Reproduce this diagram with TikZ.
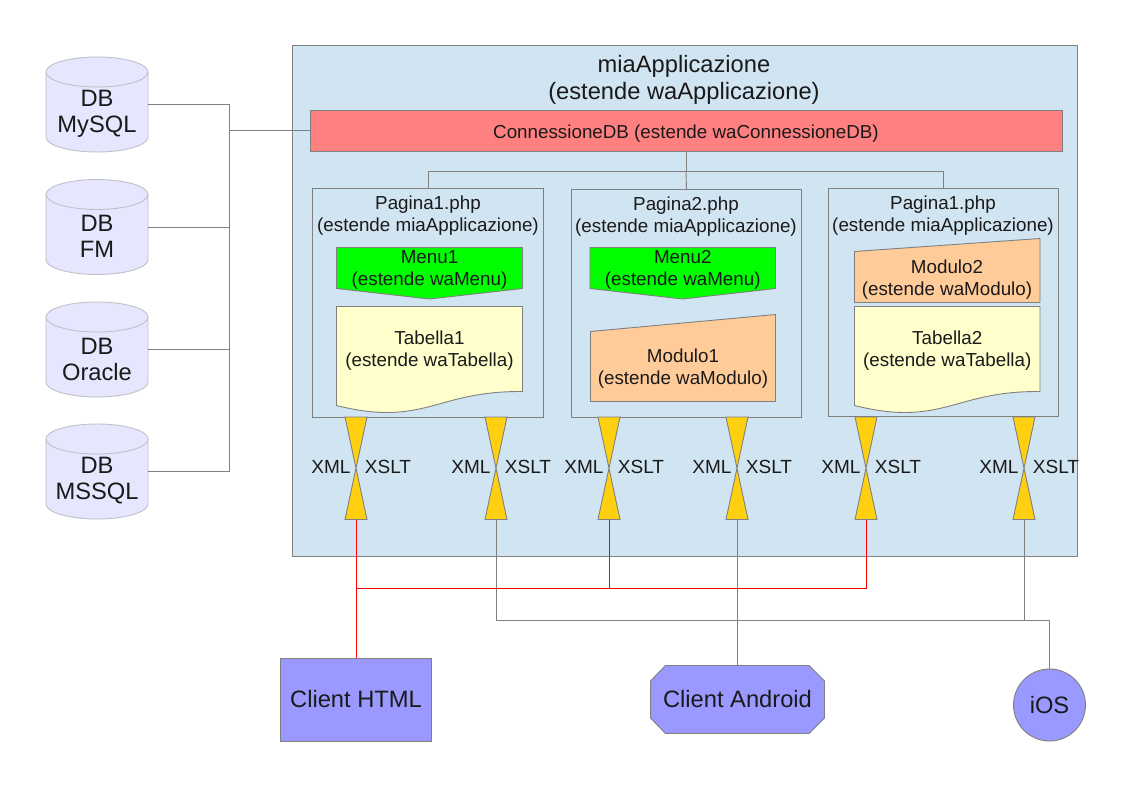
\documentclass[tikz,border=0pt]{standalone}
\usepackage{fontspec}
\setmainfont{Liberation Sans}
\usetikzlibrary{calc}
\definecolor{frameblue}{HTML}{D0E4F1}
\definecolor{edge}{HTML}{808080}
\definecolor{conn}{HTML}{FF8080}
\definecolor{dbfill}{HTML}{E6E6FF}
\definecolor{dbedge}{HTML}{C0C0C8}
\definecolor{menug}{HTML}{00FF00}
\definecolor{tabfill}{HTML}{FFFFCC}
\definecolor{modfill}{HTML}{FFCC99}
\definecolor{hourfill}{HTML}{FFD010}
\definecolor{clientfill}{HTML}{9999FF}
\definecolor{txt}{HTML}{1A1A1A}
\tikzset{
 x=1pt,y=-1pt,
 every node/.style={text=txt,font=\fontsize{18.8}{22}\selectfont,align=center,inner sep=0pt,outer sep=0pt},
 wire/.style={draw=edge,line width=0.9pt},
 redwire/.style={draw=red,line width=0.9pt},
 shapeline/.style={draw=edge,line width=0.9pt},
 boxed/.style={rectangle,draw=edge,line width=0.9pt},
 lbl/.style={font=\fontsize{19}{22}\selectfont},
 big/.style={font=\fontsize{23.7}{27}\selectfont},
 dbtext/.style={font=\fontsize{23.7}{26}\selectfont},
 pagetext/.style={font=\fontsize{18.8}{22}\selectfont},
}
% \dbcyl{name}{top y}{line 1}{line 2}
\newcommand{\dbcyl}[4]{%
 \path[fill=dbfill,draw=dbedge,line width=0.9pt] (46,#2+15) arc[x radius=51,y radius=15,start angle=180,end angle=360]
   -- (148,#2+80) arc[x radius=51,y radius=15,start angle=0,end angle=180] -- cycle;
 \path[draw=dbedge,line width=0.9pt] (46,#2+15) arc[x radius=51,y radius=15,start angle=180,end angle=0];
 \node[rectangle,minimum width=102pt,minimum height=95pt] (#1) at (97,#2+47.5) {};
 \node[dbtext] at (97,#2+57) {#3\\#4};
}
% \hourglass{name}{centre x}
\newcommand{\hourglass}[2]{%
 \path[shapeline,fill=hourfill,line join=miter] (#2-11,417) -- (#2+11,417) -- (#2-11,519.5) -- (#2+11,519.5) -- cycle;
 \node[rectangle,minimum width=22pt,minimum height=102.5pt] (#1) at (#2,468.25) {};
 \node[lbl,anchor=center] at (#2-25,467) {XML};
 \node[lbl,anchor=center] at (#2+32,467) {XSLT};
}
% \tabella{name}{left x}{right x}{text}
\newcommand{\tabella}[4]{%
 \path[shapeline,fill=tabfill] (#2,306.5) -- (#3,306.5) -- (#3,391.5)
   .. controls (#2+118,391) and (#2+98,412.5) .. (#2+50,412.5)
   .. controls (#2+32,412.5) and (#2+14,409) .. (#2,405.5) -- cycle;
 \node[pagetext] (#1) at ({(#2+#3)/2},351) {#4};
}
% \menushape{name}{left x}{right x}{text}
\newcommand{\menushape}[4]{%
 \path[shapeline,fill=menug] (#2,247.5) -- (#3,247.5) -- (#3,288.5) -- ({(#2+#3)/2},299) -- (#2,288.5) -- cycle;
 \node[pagetext] (#1) at ({(#2+#3)/2},269.5) {#4};
}
\begin{document}
\begin{tikzpicture}
\useasboundingbox (0,0) rectangle (1123,794);
\fill[white] (0,0) rectangle (1123,794);

% application frame
\node[boxed,fill=frameblue,minimum width=785pt,minimum height=511pt,anchor=north west] (app) at (292,45) {};
\node[big] (apptitle) at (684,80) {miaApplicazione\\(estende waApplicazione)};
\node[boxed,fill=conn,minimum width=752pt,minimum height=41pt,anchor=north west] (conn) at (310,110.5) {};
\node[pagetext] (conntext) at (686,133.5) {ConnessioneDB (estende waConnessioneDB)};

% pages
\node[boxed,minimum width=231pt,minimum height=229pt,anchor=north west] (p1) at (312.5,188.5) {};
\node[boxed,minimum width=230pt,minimum height=228pt,anchor=north west] (p2) at (571.5,189.5) {};
\node[boxed,minimum width=230pt,minimum height=228pt,anchor=north west] (p3) at (828.5,188.5) {};
\node[pagetext] at (428,216) {Pagina1.php\\(estende miaApplicazione)};
\node[pagetext] at (686,217) {Pagina2.php\\(estende miaApplicazione)};
\node[pagetext] at (943,216) {Pagina1.php\\(estende miaApplicazione)};

\coordinate (tree) at (conn.south -| 686,0);
\coordinate (treej) at (686,171.5);
\draw[wire] (tree) -- (treej);
\draw[wire] (p1.north) -- (p1.north |- treej) -- (p3.north |- treej) -- (p3.north);
\draw[wire] (treej) -- (p2.north);

% databases
\dbcyl{mysql}{57}{DB}{MySQL}
\dbcyl{fm}{179.5}{DB}{FM}
\dbcyl{oracle}{302}{DB}{Oracle}
\dbcyl{mssql}{424}{DB}{MSSQL}
\coordinate (bus) at (229.5,130.5);
\draw[wire] (mysql.east |- 0,104.5) -| (bus);
\draw[wire] (fm.east |- 0,227) -| (bus);
\draw[wire] (oracle.east |- 0,349) -| (bus);
\draw[wire] (mssql.east |- 0,471) -| (bus);
\draw[wire] (bus) -- (conn.west |- bus);

% page contents
\menushape{menu1}{336.5}{522.5}{Menu1\\(estende waMenu)}
\tabella{tab1}{336.5}{522.5}{Tabella1\\(estende waTabella)}
\menushape{menu2}{590}{775.5}{Menu2\\(estende waMenu)}
\path[shapeline,fill=modfill] (590.5,331.5) -- (775.5,314.5) -- (775.5,401.5) -- (590.5,401.5) -- cycle;
\node[pagetext] (mod1) at (683,369) {Modulo1\\(estende waModulo)};
\path[shapeline,fill=modfill] (854.5,251.5) -- (1040,238.5) -- (1040,302.5) -- (854.5,302.5) -- cycle;
\node[pagetext] (mod2) at (947,279.5) {Modulo2\\(estende waModulo)};
\tabella{tab2}{854.5}{1040}{Tabella2\\(estende waTabella)}

% hourglasses
\hourglass{h1}{356}
\hourglass{h2}{496}
\hourglass{h3}{609}
\hourglass{h4}{737}
\hourglass{h5}{866}
\hourglass{h6}{1024}

% clients
\node[boxed,fill=clientfill,minimum width=151pt,minimum height=83pt,anchor=north west,big] (html) at (280.5,658) {Client HTML};
\path[shapeline,fill=clientfill] (665.5,665.5) -- (809,665.5) -- (824.5,681) -- (824.5,718) -- (809,733.5) -- (665.5,733.5) -- (650.5,718) -- (650.5,681) -- cycle;
\node[rectangle,minimum width=174pt,minimum height=68pt,big] (android) at (737.5,699.5) {Client Android};
\node[circle,draw=edge,line width=0.9pt,fill=clientfill,minimum size=72pt,big] (ios) at (1049.5,705) {iOS};

% connectors
\draw[wire] (h2.south) |- (ios.north |- 0,620.5) -- (ios.north);
\draw[wire] (h4.south) -- (h4.south |- android.north);
\draw[wire] (h6.south) -- (h6.south |- 0,620.5);
\coordinate (redj) at (356,588.5);
\draw[redwire] (h1.south) -- (h1.south |- html.north);
\draw[redwire] (redj) -- (h5.south |- redj) -- (h5.south);
\draw[redwire] (h3.south) -- (h3.south |- redj);
\end{tikzpicture}
\end{document}
